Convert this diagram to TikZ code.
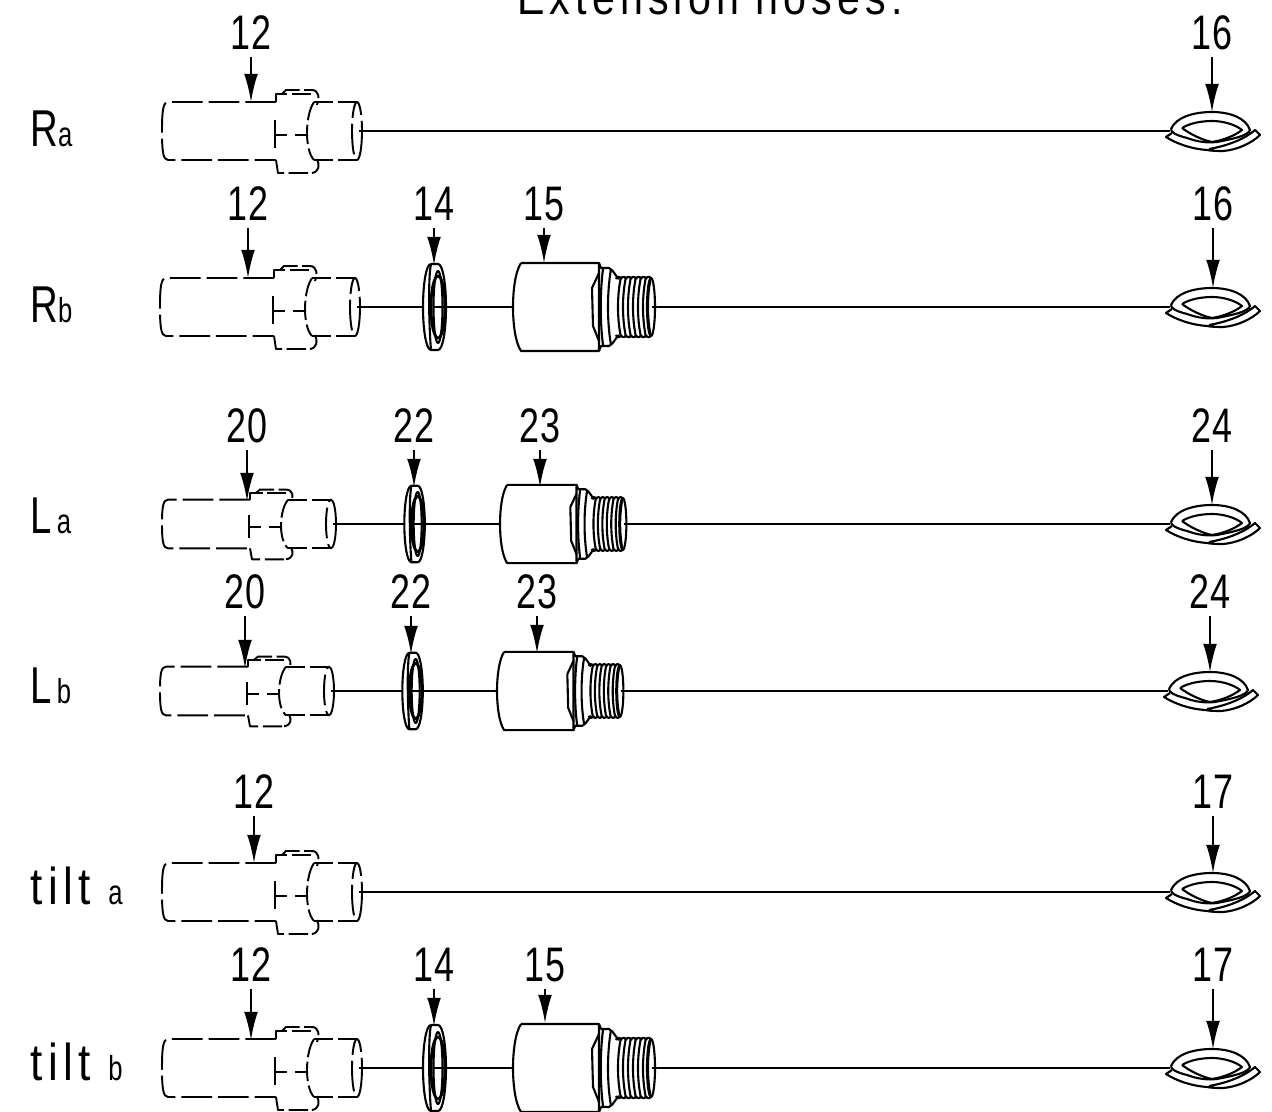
\documentclass[tikz,border=0pt]{standalone}
\usepackage{fontspec}
\newfontfamily\din[FakeStretch=.74,LetterSpace=3]{Liberation Sans}
\newfontfamily\dinwide[FakeStretch=.85,LetterSpace=10.5]{Liberation Sans}
\usetikzlibrary{arrows.meta}
\newcommand{\smalltxt}[1]{{\din\fontsize{19.7}{22}\selectfont #1}}
\begin{document}
\begin{tikzpicture}[
x=0.02cm,y=-0.02cm,
line join=round,
partline/.style={line width=1.2pt},
hoseline/.style={line width=1.1pt},
dashedpart/.style={line width=1.1pt,dash pattern=on 17.5pt off 3.4pt},
dashedsmall/.style={line width=1.1pt,dash pattern=on 11pt off 2.6pt},
partlabel/.style={
  font=\din\fontsize{27.6}{30}\selectfont,
  text height=19.3pt,
  text depth=0pt,
  inner xsep=2pt,
  inner ysep=4pt,
  outer sep=0pt
  },
rowlabel/.style={anchor=base west,inner sep=0pt,font=\din\fontsize{29.5}{32}\selectfont},
callout/.style={-{Latex[length=16pt,width=7.8pt]},line width=1.1pt},
pics/fitting/.style={code={
  \draw[dashedpart] (114,-29) -- (#1+6,-29) .. controls (#1+1,-29) and (#1,-20) .. (#1,0)
    .. controls (#1,20) and (#1+1,29) .. (#1+6,29) -- (114,29);
  \draw[dashedsmall] (114,-29) -- (114,-37) -- (150,-37);
  \draw[dashedsmall] (114,29) -- (116,42) -- (150,42);
  \draw[dashedsmall] (120,-37) -- (124,-41) -- (150,-41) .. controls (157,-41) and (158,-32) .. (155,-26);
  \draw[dashedsmall] (150,42) .. controls (157,41) and (158,34) .. (155,28);
  \draw[dashedpart] (113,-11) -- (113,17);
  \draw[line width=1.1pt] (114,4) -- (125,4) (133,4) -- (146,4);
  \draw[dashedsmall] (152,-29) .. controls (146,-20) and (145,-5) .. (145,2) .. controls (145,12) and (147,24) .. (152,29);
  \draw[dashedsmall] (152,-29) -- (195,-29);
  \draw[dashedsmall] (152,29) -- (195,29);
  \draw[dashedpart] (195,0) ellipse (5 and 29);
  \coordinate (-end) at (197,0);
}},
pics/washer/.style={code={
  \draw[partline] (-4,-43) -- (3,-43) .. controls (8,-43) and (11,-22) .. (11,0)
    .. controls (11,22) and (8,43) .. (3,43) -- (-4,43)
    .. controls (-9,43) and (-12,22) .. (-12,0)
    .. controls (-12,-22) and (-9,-43) .. (-4,-43);
  \draw[partline] (-4,-43) .. controls (-7,-30) and (-6,20) .. (-4,43);
  \draw[line width=1.6pt] (3,0) ellipse (7 and 31);
  \draw[partline] (3,0) ellipse (4.5 and 36);
  \coordinate (-l) at (-12,0);
  \coordinate (-h) at (-1,0);
}},
pics/nipple/.style={code={
  \draw[partline] (8,-44) -- (86,-44) -- (86,44) -- (8,44) .. controls (2,35) and (0,15) .. (0,0)
    .. controls (0,-15) and (2,-35) .. (8,-44);
  \draw[partline] (86,-44) -- (88,-39) -- (96,-39) .. controls (101,-37) and (104,-28) .. (106,-28);
  \draw[partline] (86,44) -- (88,39) -- (96,39) .. controls (101,37) and (104,28) .. (106,28);
  \draw[partline] (86,-34) -- (79,-19) -- (80,19) -- (86,34);
  \draw[partline] (90,-38) .. controls (87,-15) and (87,15) .. (90,38);
  \draw[partline] (98,-38) .. controls (94,-15) and (94,15) .. (98,38);
  \foreach \Thread in {108,113,...,138}{
    \draw[partline] (\Thread,-30) .. controls (\Thread-4,-12) and (\Thread-4,12) .. (\Thread,30);
    \draw[partline] (\Thread-5,-28) .. controls (\Thread-4,-31) and (\Thread-1,-31) .. (\Thread,-28);
    \draw[partline] (\Thread-5,28) .. controls (\Thread-4,31) and (\Thread-1,31) .. (\Thread,28);
  }
  \draw[partline] (138,0) ellipse (4 and 29);
  \coordinate (-l) at (0,0);
  \coordinate (-end) at (139,0);
}},
pics/coil/.style={code={
  \draw[partline] (-41,-2) .. controls (-36,-14) and (-18,-19) .. (0,-19)
    .. controls (18,-19) and (34,-13) .. (38,-1) .. controls (36,5) and (20,8) .. (5,11);
  \draw[partline] (-41,-2) .. controls (-41,1) and (-37,4) .. (-25,7) .. controls (-14,11) and (-5,12) .. (5,11);
  \draw[partline] (-30,-3) .. controls (-22,-8) and (-10,-10) .. (0,-10)
    .. controls (12,-10) and (24,-6) .. (30,-1) .. controls (22,5) and (12,9) .. (0,11)
    .. controls (-10,9) and (-22,3) .. (-30,-3);
  \draw[partline] (-40,2) -- (-46,6) .. controls (-35,13) and (-20,18) .. (-5,19)
    .. controls (0,20) and (6,20) .. (11,20) .. controls (25,19) and (40,12) .. (48,4) -- (43,-1)
    .. controls (35,6) and (20,14) .. (-3,18);
  \coordinate (-start) at (-42,0);
}}
]
\useasboundingbox (0,0) rectangle (1272,1112);
\clip (0,0) rectangle (1272,1112);
% title
\node[partlabel,font=\dinwide\fontsize{27.6}{30}\selectfont,anchor=base] (title) at (710,14) {Extension hoses:};
% row names
\node[rowlabel] (nra) at (30,146) {R\smalltxt{a}};
\node[rowlabel] (nrb) at (30,322) {R\smalltxt{b}};
\node[rowlabel] (nla) at (30,533) {L\hspace{3pt}\smalltxt{a}};
\node[rowlabel] (nlb) at (30,703) {L\hspace{3pt}\smalltxt{b}};
\node[rowlabel,font=\dinwide\fontsize{29.5}{32}\selectfont] (nta) at (30,904) {tilt \smalltxt{a}};
\node[rowlabel,font=\dinwide\fontsize{29.5}{32}\selectfont] (ntb) at (30,1080) {tilt \smalltxt{b}};
% hose ends
\foreach \Name/\Fx/\Axis/\Cx/\Sc/\Fl in {ra/162/131/1212/1/0,rb/160/307/1212/1/0,la/136/524/1212/.84/26,lb/134/691/1210/.84/26,ta/162/892/1212/1/0,tb/162/1068/1212/1/0}{
  \pic[yscale=\Sc] (f\Name) at (\Fx,\Axis) {fitting=\Fl};
  \pic (c\Name) at (\Cx,\Axis) {coil};
}
% adapters
\foreach \Name/\Wx/\Nx/\Axis/\Sc in {rb/435/513/307/1,la/415/500/524/.89,lb/413/497/691/.89,tb/435/513/1068/1}{
  \pic[scale=\Sc] (w\Name) at (\Wx,\Axis) {washer};
  \pic[scale=\Sc] (n\Name) at (\Nx,\Axis) {nipple};
}
% hoses
\foreach \Name in {ra,ta}
  \draw[hoseline] (f\Name-end) -- (c\Name-start);
\foreach \Name in {rb,la,lb,tb}
  \draw[hoseline] (f\Name-end) -- (w\Name-l) (w\Name-h) -- (n\Name-l) (n\Name-end) -- (c\Name-start);
% callouts
\foreach \Id/\Lx/\Ly/\Ty/\Txt in {
  a/251/33/102/12,b/1212/33/112/16,
  c/248/204/278/12,d/434/204/265/14,e/544/204/263/15,f/1213/204/288/16,
  g/247/426/501/20,h/414/426/487/22,i/540/426/487/23,j/1212/426/505/24,
  k/245/592/668/20,l/411/592/654/22,m/537/592/653/23,n/1210/592/672/24,
  o/254/792/863/12,p/1213/792/873/17,
  q/251/965/1040/12,r/434/965/1026/14,s/545/965/1023/15,t/1213/965/1049/17}{
  \node[partlabel] (l\Id) at (\Lx,\Ly) {\Txt};
  \coordinate (t\Id) at (\Lx,\Ty);
  \draw[callout] (l\Id) -- (t\Id);
}
\end{tikzpicture}
\end{document}
